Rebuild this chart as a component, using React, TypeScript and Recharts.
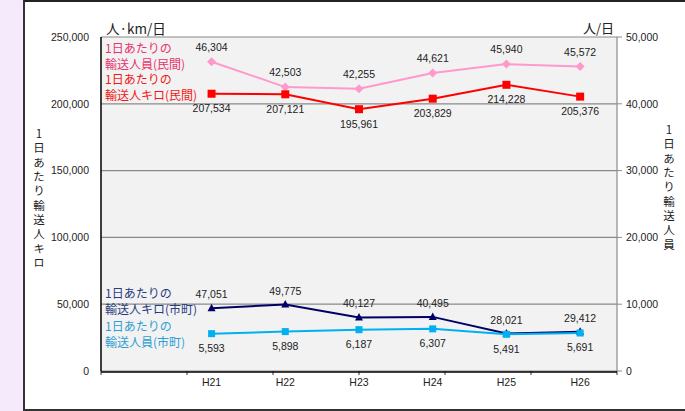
import React from 'react';
import { LineChart, Line, XAxis, YAxis, CartesianGrid, LabelList } from 'recharts';

const categories = ['', 'H21', 'H22', 'H23', 'H24', 'H25', 'H26'];
const passengersPrivate = [null, 46304, 42503, 42255, 44621, 45940, 45572];
const kmPrivate = [null, 207534, 207121, 195961, 203829, 214228, 205376];
const kmMunicipal = [null, 47051, 49775, 40127, 40495, 28021, 29412];
const passengersMunicipal = [null, 5593, 5898, 6187, 6307, 5491, 5691];
const leftTicks = [0, 50000, 100000, 150000, 200000, 250000];
const rightTicks = [0, 10000, 20000, 30000, 40000, 50000];
const bandTicks = [0, 1, 2, 3, 4, 5, 6, 7];

const data = categories.map((name, i) => ({
  name,
  pp: passengersPrivate[i],
  kp: kmPrivate[i],
  km: kmMunicipal[i],
  pm: passengersMunicipal[i],
}));

const fmt = (v: any) => (v == null ? '' : Number(v).toLocaleString('en-US'));

const JP = '"Noto Sans CJK JP", "Noto Sans", sans-serif';
const LAT = '"Liberation Sans", Arial, sans-serif';

const Diamond = (props: any) => {
  const { cx, cy, payload } = props;
  if (cx == null || cy == null || payload?.pp == null) return null;
  const r = 4.5;
  return <polygon points={`${cx},${cy - r} ${cx + r},${cy} ${cx},${cy + r} ${cx - r},${cy}`} fill="#ff99cc" />;
};
const SquareRed = (props: any) => {
  const { cx, cy, payload } = props;
  if (cx == null || cy == null || payload?.kp == null) return null;
  return <rect x={cx - 4} y={cy - 4} width={8} height={8} fill="#ff0000" />;
};
const Tri = (props: any) => {
  const { cx, cy, payload } = props;
  if (cx == null || cy == null || payload?.km == null) return null;
  return <polygon points={`${cx},${cy - 4.5} ${cx + 4},${cy + 3} ${cx - 4},${cy + 3}`} fill="#000066" />;
};
const SquareBlue = (props: any) => {
  const { cx, cy, payload } = props;
  if (cx == null || cy == null || payload?.pm == null) return null;
  return <rect x={cx - 3.5} y={cy - 3.5} width={7} height={7} fill="#00b0f0" />;
};

const tickStyle = { fontSize: 10.5, fill: '#222', fontFamily: LAT };
const labelStyle = { fontSize: 10.5, fill: '#222', fontFamily: LAT };

const Note = ({ x, y, color, lines }: { x: number; y: number; color: string; lines: string[] }) => (
  <div style={{ position: 'absolute', left: x, top: y, color, fontFamily: JP, fontSize: 12, lineHeight: '15.5px', whiteSpace: 'nowrap' }}>
    {lines.map((l, i) => (
      <div key={i}>{l}</div>
    ))}
  </div>
);

const VTitle = ({ x, y, text }: { x: number; y: number; text: string }) => (
  <div style={{ position: 'absolute', left: x, top: y, writingMode: 'vertical-rl', textOrientation: 'upright', fontFamily: JP, fontSize: 11.5, letterSpacing: '2.8px', lineHeight: '14px', color: '#222', whiteSpace: 'nowrap' }}>
    {text}
  </div>
);

const EmptyTick = () => <g />;

export default function App() {
  return (
    <div style={{ position: 'absolute', left: 0, top: 0, width: 685, height: 411, background: '#f5e9fc', overflow: 'hidden' }}>
      <div style={{ position: 'absolute', left: 23, top: 0, width: 700, height: 411, background: '#fff', borderLeft: '2px solid #333', borderTop: '2px solid #222', borderBottom: '2px solid #333', boxSizing: 'border-box' }} />
      <div style={{ position: 'absolute', left: 0, top: 0 }}>
        <LineChart width={685} height={411} data={data} margin={{ top: 37, left: 41, right: 8, bottom: 10 }} style={{ fontFamily: LAT }}>
          <CartesianGrid yAxisId="left" xAxisId="cat" vertical={false} stroke="#8a8a8a" strokeWidth={1.2} fill="#f2f2f2" />
          <XAxis xAxisId="band" type="number" domain={[0, 7]} ticks={bandTicks} tick={<EmptyTick />} tickLine={{ stroke: '#333', strokeWidth: 1 }} tickSize={4} axisLine={false} height={1} allowDataOverflow />
          <XAxis xAxisId="cat" dataKey="name" scale="band" tickLine={false} tickSize={0} tickMargin={7} height={29} axisLine={{ stroke: '#000', strokeWidth: 1.5 }} tick={tickStyle} interval={0} />
          <YAxis yAxisId="left" domain={[0, 250000]} ticks={leftTicks} tickFormatter={fmt} tick={tickStyle} width={60} tickSize={0} tickMargin={12} tickLine={false} axisLine={{ stroke: '#000', strokeWidth: 1.5 }} />
          <YAxis yAxisId="right" orientation="right" domain={[0, 50000]} ticks={rightTicks} tickFormatter={fmt} tick={tickStyle} width={60} tickSize={5} tickMargin={4} tickLine={{ stroke: '#8a8a8a' }} axisLine={{ stroke: '#8a8a8a', strokeWidth: 1.2 }} />
          <Line xAxisId="cat" yAxisId="right" dataKey="pp" stroke="#ff99cc" strokeWidth={2} dot={<Diamond />} activeDot={false} isAnimationActive={false}>
            <LabelList dataKey="pp" position="top" offset={11} formatter={fmt} style={labelStyle} />
          </Line>
          <Line xAxisId="cat" yAxisId="left" dataKey="kp" stroke="#ff0000" strokeWidth={2} dot={<SquareRed />} activeDot={false} isAnimationActive={false}>
            <LabelList dataKey="kp" position="bottom" offset={11} formatter={fmt} style={labelStyle} />
          </Line>
          <Line xAxisId="cat" yAxisId="left" dataKey="km" stroke="#000066" strokeWidth={2} dot={<Tri />} activeDot={false} isAnimationActive={false}>
            <LabelList dataKey="km" position="top" offset={10} formatter={fmt} style={labelStyle} />
          </Line>
          <Line xAxisId="cat" yAxisId="right" dataKey="pm" stroke="#00b0f0" strokeWidth={2} dot={<SquareBlue />} activeDot={false} isAnimationActive={false}>
            <LabelList dataKey="pm" position="bottom" offset={11} formatter={fmt} style={labelStyle} />
          </Line>
        </LineChart>
      </div>
      <div style={{ position: 'absolute', left: 106, top: 18, fontFamily: JP, fontSize: 13.5, color: '#222', whiteSpace: 'nowrap' }}>人·km/日</div>
      <div style={{ position: 'absolute', left: 583, top: 18, fontFamily: JP, fontSize: 13, color: '#222', whiteSpace: 'nowrap' }}>人/日</div>
      <Note x={105} y={40} color="#e8336f" lines={['1日あたりの', '輸送人員(民間)']} />
      <Note x={105} y={71} color="#f01818" lines={['1日あたりの', '輸送人キロ(民間)']} />
      <Note x={105} y={285} color="#283c80" lines={['1日あたりの', '輸送人キロ(市町)']} />
      <Note x={105} y={318} color="#2e9fd2" lines={['1日あたりの', '輸送人員(市町)']} />
      <VTitle x={32} y={128} text="1日あたり輸送人キロ" />
      <VTitle x={662} y={124} text="1日あたり輸送人員" />
    </div>
  );
}
